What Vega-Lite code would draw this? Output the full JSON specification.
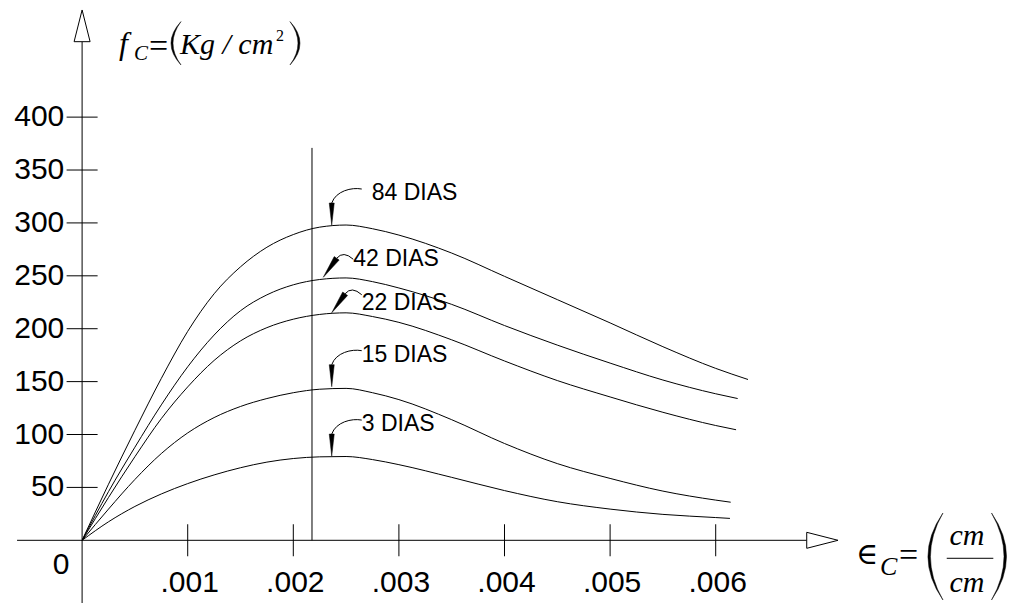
{
  "$schema": "https://vega.github.io/schema/vega-lite/v6.json",
  "width": 1016,
  "height": 603,
  "autosize": {"type": "none"},
  "padding": 0,
  "background": "white",
  "config": {"view": {"stroke": null}},
  "data": {"values": [{}]},
  "datasets": {
    "curves": [
      {"age": "84 DIAS", "x": 0, "y": 0},
      {"age": "84 DIAS", "x": 0.00025, "y": 53},
      {"age": "84 DIAS", "x": 0.0005, "y": 104},
      {"age": "84 DIAS", "x": 0.00075, "y": 153},
      {"age": "84 DIAS", "x": 0.001, "y": 197.5},
      {"age": "84 DIAS", "x": 0.00125, "y": 233},
      {"age": "84 DIAS", "x": 0.0015, "y": 258.5},
      {"age": "84 DIAS", "x": 0.00175, "y": 277},
      {"age": "84 DIAS", "x": 0.002, "y": 289},
      {"age": "84 DIAS", "x": 0.00225, "y": 296},
      {"age": "84 DIAS", "x": 0.0025, "y": 298},
      {"age": "84 DIAS", "x": 0.00275, "y": 294.5},
      {"age": "84 DIAS", "x": 0.003, "y": 288.5},
      {"age": "84 DIAS", "x": 0.0035, "y": 271.5},
      {"age": "84 DIAS", "x": 0.004, "y": 249.5},
      {"age": "84 DIAS", "x": 0.0045, "y": 227.5},
      {"age": "84 DIAS", "x": 0.005, "y": 205.5},
      {"age": "84 DIAS", "x": 0.0055, "y": 183},
      {"age": "84 DIAS", "x": 0.006, "y": 162.5},
      {"age": "84 DIAS", "x": 0.006306, "y": 152},
      {"age": "42 DIAS", "x": 0, "y": 0},
      {"age": "42 DIAS", "x": 0.00025, "y": 46},
      {"age": "42 DIAS", "x": 0.0005, "y": 88},
      {"age": "42 DIAS", "x": 0.00075, "y": 128},
      {"age": "42 DIAS", "x": 0.001, "y": 164},
      {"age": "42 DIAS", "x": 0.00125, "y": 194},
      {"age": "42 DIAS", "x": 0.0015, "y": 217},
      {"age": "42 DIAS", "x": 0.00175, "y": 232},
      {"age": "42 DIAS", "x": 0.002, "y": 241.5},
      {"age": "42 DIAS", "x": 0.00225, "y": 246.5},
      {"age": "42 DIAS", "x": 0.0025, "y": 248},
      {"age": "42 DIAS", "x": 0.00275, "y": 244.5},
      {"age": "42 DIAS", "x": 0.003, "y": 238.5},
      {"age": "42 DIAS", "x": 0.0035, "y": 223},
      {"age": "42 DIAS", "x": 0.004, "y": 203},
      {"age": "42 DIAS", "x": 0.0045, "y": 184.5},
      {"age": "42 DIAS", "x": 0.005, "y": 167.5},
      {"age": "42 DIAS", "x": 0.0055, "y": 151.5},
      {"age": "42 DIAS", "x": 0.006, "y": 138.5},
      {"age": "42 DIAS", "x": 0.006208, "y": 134},
      {"age": "22 DIAS", "x": 0, "y": 0},
      {"age": "22 DIAS", "x": 0.00025, "y": 40.5},
      {"age": "22 DIAS", "x": 0.0005, "y": 79},
      {"age": "22 DIAS", "x": 0.00075, "y": 115},
      {"age": "22 DIAS", "x": 0.001, "y": 145},
      {"age": "22 DIAS", "x": 0.00125, "y": 170},
      {"age": "22 DIAS", "x": 0.0015, "y": 188.5},
      {"age": "22 DIAS", "x": 0.00175, "y": 201},
      {"age": "22 DIAS", "x": 0.002, "y": 209},
      {"age": "22 DIAS", "x": 0.00225, "y": 213.5},
      {"age": "22 DIAS", "x": 0.0025, "y": 215},
      {"age": "22 DIAS", "x": 0.00275, "y": 211.5},
      {"age": "22 DIAS", "x": 0.003, "y": 206},
      {"age": "22 DIAS", "x": 0.0035, "y": 189.5},
      {"age": "22 DIAS", "x": 0.004, "y": 169.5},
      {"age": "22 DIAS", "x": 0.0045, "y": 151},
      {"age": "22 DIAS", "x": 0.005, "y": 135.5},
      {"age": "22 DIAS", "x": 0.0055, "y": 121},
      {"age": "22 DIAS", "x": 0.006, "y": 108.5},
      {"age": "22 DIAS", "x": 0.006193, "y": 104.5},
      {"age": "15 DIAS", "x": 0, "y": 0},
      {"age": "15 DIAS", "x": 0.00025, "y": 29.5},
      {"age": "15 DIAS", "x": 0.0005, "y": 57.5},
      {"age": "15 DIAS", "x": 0.00075, "y": 82},
      {"age": "15 DIAS", "x": 0.001, "y": 101.5},
      {"age": "15 DIAS", "x": 0.00125, "y": 116},
      {"age": "15 DIAS", "x": 0.0015, "y": 126.5},
      {"age": "15 DIAS", "x": 0.00175, "y": 134},
      {"age": "15 DIAS", "x": 0.002, "y": 139.5},
      {"age": "15 DIAS", "x": 0.00225, "y": 142.8},
      {"age": "15 DIAS", "x": 0.0025, "y": 143.6},
      {"age": "15 DIAS", "x": 0.00275, "y": 139.5},
      {"age": "15 DIAS", "x": 0.003, "y": 133},
      {"age": "15 DIAS", "x": 0.0035, "y": 114},
      {"age": "15 DIAS", "x": 0.004, "y": 91.5},
      {"age": "15 DIAS", "x": 0.0045, "y": 72.5},
      {"age": "15 DIAS", "x": 0.005, "y": 58.5},
      {"age": "15 DIAS", "x": 0.0055, "y": 46.5},
      {"age": "15 DIAS", "x": 0.006, "y": 38},
      {"age": "15 DIAS", "x": 0.006142, "y": 36},
      {"age": "3 DIAS", "x": 0, "y": 0},
      {"age": "3 DIAS", "x": 0.00025, "y": 17.5},
      {"age": "3 DIAS", "x": 0.0005, "y": 32},
      {"age": "3 DIAS", "x": 0.00075, "y": 43.8},
      {"age": "3 DIAS", "x": 0.001, "y": 53.6},
      {"age": "3 DIAS", "x": 0.00125, "y": 61.8},
      {"age": "3 DIAS", "x": 0.0015, "y": 68.6},
      {"age": "3 DIAS", "x": 0.00175, "y": 73.9},
      {"age": "3 DIAS", "x": 0.002, "y": 77.3},
      {"age": "3 DIAS", "x": 0.00225, "y": 78.9},
      {"age": "3 DIAS", "x": 0.0025, "y": 79.2},
      {"age": "3 DIAS", "x": 0.00275, "y": 76.3},
      {"age": "3 DIAS", "x": 0.003, "y": 71.5},
      {"age": "3 DIAS", "x": 0.0035, "y": 59.5},
      {"age": "3 DIAS", "x": 0.004, "y": 47},
      {"age": "3 DIAS", "x": 0.0045, "y": 36.5},
      {"age": "3 DIAS", "x": 0.005, "y": 29.5},
      {"age": "3 DIAS", "x": 0.0055, "y": 24.5},
      {"age": "3 DIAS", "x": 0.006, "y": 21.5},
      {"age": "3 DIAS", "x": 0.006135, "y": 20.7}
    ],
    "ann": [
      {"label": "84 DIAS", "x": 0.002364, "y": 298, "kind": "v"},
      {"label": "42 DIAS", "x": 0.002284, "y": 248.6, "kind": "d"},
      {"label": "22 DIAS", "x": 0.002364, "y": 215.1, "kind": "d"},
      {"label": "15 DIAS", "x": 0.002364, "y": 145.2, "kind": "v"},
      {"label": "3 DIAS", "x": 0.002364, "y": 79.6, "kind": "v"}
    ],
    "xt": [
      {"x": 0.001, "label": ".001"},
      {"x": 0.002, "label": ".002"},
      {"x": 0.003, "label": ".003"},
      {"x": 0.004, "label": ".004"},
      {"x": 0.005, "label": ".005"},
      {"x": 0.006, "label": ".006"}
    ],
    "yt": [
      {"y": 50, "label": "50"},
      {"y": 100, "label": "100"},
      {"y": 150, "label": "150"},
      {"y": 200, "label": "200"},
      {"y": 250, "label": "250"},
      {"y": 300, "label": "300"},
      {"y": 350, "label": "350"},
      {"y": 400, "label": "400"}
    ]
  },
  "layer": [
    {
      "data": {"name": "curves"},
      "mark": {"type": "line", "interpolate": "monotone", "stroke": "black", "strokeWidth": 1},
      "encoding": {
        "x": {"field": "x", "type": "quantitative", "scale": {"domain": [-0.0007775, 0.0088438], "nice": false, "zero": false}, "axis": null},
        "y": {"field": "y", "type": "quantitative", "scale": {"domain": [-59.26, 510.7], "nice": false, "zero": false}, "axis": null},
        "detail": {"field": "age"}
      }
    },
    {
      "mark": {"type": "rule", "stroke": "black", "strokeWidth": 1},
      "encoding": {
        "x": {"datum": -0.000616, "type": "quantitative", "axis": null},
        "x2": {"datum": 0.006862},
        "y": {"datum": 0, "type": "quantitative", "axis": null}
      }
    },
    {
      "mark": {"type": "rule", "stroke": "black", "strokeWidth": 1},
      "encoding": {
        "x": {"datum": 0, "type": "quantitative", "axis": null},
        "y": {"datum": -59.26, "type": "quantitative", "axis": null},
        "y2": {"datum": 471.3}
      }
    },
    {
      "mark": {"type": "rule", "stroke": "black", "strokeWidth": 1},
      "encoding": {
        "x": {"datum": 0.002177, "type": "quantitative", "axis": null},
        "y": {"datum": 0, "type": "quantitative", "axis": null},
        "y2": {"datum": 370.9}
      }
    },
    {
      "mark": {"type": "point", "shape": "M-8,0L8,0L0,-31.7Z", "size": 4, "filled": true, "fill": "white", "stroke": "black", "strokeWidth": 1, "opacity": 1},
      "encoding": {
        "x": {"datum": 0, "type": "quantitative", "axis": null},
        "y": {"datum": 471.3, "type": "quantitative", "axis": null}
      }
    },
    {
      "mark": {"type": "point", "shape": "M0,-8L0,8L31.3,0Z", "size": 4, "filled": true, "fill": "white", "stroke": "black", "strokeWidth": 1, "opacity": 1},
      "encoding": {
        "x": {"datum": 0.006862, "type": "quantitative", "axis": null},
        "y": {"datum": 0, "type": "quantitative", "axis": null}
      }
    },
    {
      "data": {"name": "xt"},
      "mark": {"type": "tick", "orient": "vertical", "size": 32, "thickness": 1, "color": "black", "opacity": 1},
      "encoding": {
        "x": {"field": "x", "type": "quantitative", "axis": null},
        "y": {"datum": 0, "type": "quantitative", "axis": null}
      }
    },
    {
      "data": {"name": "xt"},
      "mark": {"type": "text", "font": "Liberation Sans", "fontSize": 30, "align": "center", "baseline": "middle", "dx": 2, "color": "black"},
      "encoding": {
        "x": {"field": "x", "type": "quantitative", "axis": null},
        "y": {"datum": -40.6, "type": "quantitative", "axis": null},
        "text": {"field": "label"}
      }
    },
    {
      "data": {"name": "yt"},
      "mark": {"type": "tick", "orient": "horizontal", "size": 31, "thickness": 1, "color": "black", "opacity": 1},
      "encoding": {
        "x": {"datum": 0, "type": "quantitative", "axis": null},
        "y": {"field": "y", "type": "quantitative", "axis": null}
      }
    },
    {
      "data": {"name": "yt"},
      "mark": {"type": "text", "font": "Liberation Sans", "fontSize": 30, "align": "right", "baseline": "middle", "color": "black"},
      "encoding": {
        "x": {"datum": -0.0001686, "type": "quantitative", "axis": null},
        "y": {"field": "y", "type": "quantitative", "axis": null},
        "text": {"field": "label"}
      }
    },
    {
      "mark": {"type": "text", "text": "0", "font": "Liberation Sans", "fontSize": 30, "align": "right", "baseline": "middle", "color": "black"},
      "encoding": {
        "x": {"datum": -0.000121, "type": "quantitative", "axis": null},
        "y": {"datum": -22.9, "type": "quantitative", "axis": null}
      }
    },
    {
      "data": {"name": "ann"},
      "transform": [{"filter": "datum.kind == 'v'"}],
      "mark": {"type": "point", "shape": "M30,-36C20,-38 4,-34 0,-22", "size": 4, "filled": false, "stroke": "black", "strokeWidth": 1, "opacity": 1},
      "encoding": {
        "x": {"field": "x", "type": "quantitative", "axis": null},
        "y": {"field": "y", "type": "quantitative", "axis": null}
      }
    },
    {
      "data": {"name": "ann"},
      "transform": [{"filter": "datum.kind == 'v'"}],
      "mark": {"type": "point", "shape": "M-2.5,-22L2.5,-22L0,0Z", "size": 4, "filled": true, "fill": "black", "stroke": "black", "strokeWidth": 0.5, "opacity": 1},
      "encoding": {
        "x": {"field": "x", "type": "quantitative", "axis": null},
        "y": {"field": "y", "type": "quantitative", "axis": null}
      }
    },
    {
      "data": {"name": "ann"},
      "transform": [{"filter": "datum.kind == 'd'"}],
      "mark": {"type": "point", "shape": "M13.4,-19Q20,-27 30,-18", "size": 4, "filled": false, "stroke": "black", "strokeWidth": 1, "opacity": 1},
      "encoding": {
        "x": {"field": "x", "type": "quantitative", "axis": null},
        "y": {"field": "y", "type": "quantitative", "axis": null}
      }
    },
    {
      "data": {"name": "ann"},
      "transform": [{"filter": "datum.kind == 'd'"}],
      "mark": {"type": "point", "shape": "M0,0L15.85,-17.27L10.95,-20.73Z", "size": 4, "filled": true, "fill": "black", "stroke": "black", "strokeWidth": 0.5, "opacity": 1},
      "encoding": {
        "x": {"field": "x", "type": "quantitative", "axis": null},
        "y": {"field": "y", "type": "quantitative", "axis": null}
      }
    },
    {
      "data": {"name": "ann"},
      "transform": [{"filter": "datum.label == '84 DIAS'"}],
      "mark": {"type": "text", "font": "Liberation Sans", "fontSize": 23, "align": "left", "baseline": "middle", "dx": 40, "dy": -32, "color": "black"},
      "encoding": {
        "x": {"field": "x", "type": "quantitative", "axis": null},
        "y": {"field": "y", "type": "quantitative", "axis": null},
        "text": {"field": "label"}
      }
    },
    {
      "data": {"name": "ann"},
      "transform": [{"filter": "datum.label == '15 DIAS' || datum.label == '3 DIAS'"}],
      "mark": {"type": "text", "font": "Liberation Sans", "fontSize": 23, "align": "left", "baseline": "middle", "dx": 30, "dy": -32, "color": "black"},
      "encoding": {
        "x": {"field": "x", "type": "quantitative", "axis": null},
        "y": {"field": "y", "type": "quantitative", "axis": null},
        "text": {"field": "label"}
      }
    },
    {
      "data": {"name": "ann"},
      "transform": [{"filter": "datum.label == '42 DIAS'"}],
      "mark": {"type": "text", "font": "Liberation Sans", "fontSize": 23, "align": "left", "baseline": "middle", "dx": 30, "dy": -18, "color": "black"},
      "encoding": {
        "x": {"field": "x", "type": "quantitative", "axis": null},
        "y": {"field": "y", "type": "quantitative", "axis": null},
        "text": {"field": "label"}
      }
    },
    {
      "data": {"name": "ann"},
      "transform": [{"filter": "datum.label == '22 DIAS'"}],
      "mark": {"type": "text", "font": "Liberation Sans", "fontSize": 23, "align": "left", "baseline": "middle", "dx": 30, "dy": -9.4, "color": "black"},
      "encoding": {
        "x": {"field": "x", "type": "quantitative", "axis": null},
        "y": {"field": "y", "type": "quantitative", "axis": null},
        "text": {"field": "label"}
      }
    },
    {
      "mark": {"type": "text", "text": "f", "font": "Liberation Serif", "fontStyle": "italic", "fontSize": 32, "align": "left", "baseline": "alphabetic", "color": "black"},
      "encoding": {
        "x": {"datum": 0.000349, "type": "quantitative", "axis": null},
        "y": {"datum": 460.1, "type": "quantitative", "axis": null}
      }
    },
    {
      "mark": {"type": "text", "text": "C", "font": "Liberation Serif", "fontStyle": "italic", "fontSize": 21, "align": "left", "baseline": "alphabetic", "color": "black"},
      "encoding": {
        "x": {"datum": 0.000491, "type": "quantitative", "axis": null},
        "y": {"datum": 454.0, "type": "quantitative", "axis": null}
      }
    },
    {
      "mark": {"type": "text", "text": "=", "font": "Liberation Serif", "fontSize": 34, "align": "left", "baseline": "alphabetic", "color": "black"},
      "encoding": {
        "x": {"datum": 0.000634, "type": "quantitative", "axis": null},
        "y": {"datum": 456.8, "type": "quantitative", "axis": null}
      }
    },
    {
      "mark": {"type": "text", "text": "Kg / cm", "font": "Liberation Serif", "fontStyle": "italic", "fontSize": 30, "align": "left", "baseline": "alphabetic", "color": "black"},
      "encoding": {
        "x": {"datum": 0.000927, "type": "quantitative", "axis": null},
        "y": {"datum": 460.1, "type": "quantitative", "axis": null}
      }
    },
    {
      "mark": {"type": "text", "text": "2", "font": "Liberation Serif", "fontSize": 16, "align": "left", "baseline": "alphabetic", "color": "black"},
      "encoding": {
        "x": {"datum": 0.001836, "type": "quantitative", "axis": null},
        "y": {"datum": 472.4, "type": "quantitative", "axis": null}
      }
    },
    {
      "mark": {"type": "point", "shape": "M5,-21.7Q-15,0 5,21.7Q-11,0 5,-21.7Z", "size": 4, "filled": true, "fill": "black", "stroke": "black", "strokeWidth": 0.5, "opacity": 1},
      "encoding": {
        "x": {"datum": 0.000889, "type": "quantitative", "axis": null},
        "y": {"datum": 469.8, "type": "quantitative", "axis": null}
      }
    },
    {
      "mark": {"type": "point", "shape": "M-5,-21.7Q15,0 -5,21.7Q11,0 -5,-21.7Z", "size": 4, "filled": true, "fill": "black", "stroke": "black", "strokeWidth": 0.5, "opacity": 1},
      "encoding": {
        "x": {"datum": 0.002016, "type": "quantitative", "axis": null},
        "y": {"datum": 469.8, "type": "quantitative", "axis": null}
      }
    },
    {
      "mark": {"type": "text", "text": "∈", "font": "DejaVu Serif", "fontSize": 30, "align": "left", "baseline": "middle", "color": "black"},
      "encoding": {
        "x": {"datum": 0.007329, "type": "quantitative", "axis": null},
        "y": {"datum": -13.9, "type": "quantitative", "axis": null}
      }
    },
    {
      "mark": {"type": "text", "text": "C", "font": "Liberation Serif", "fontStyle": "italic", "fontSize": 26, "align": "left", "baseline": "alphabetic", "color": "black"},
      "encoding": {
        "x": {"datum": 0.007556, "type": "quantitative", "axis": null},
        "y": {"datum": -32.8, "type": "quantitative", "axis": null}
      }
    },
    {
      "mark": {"type": "text", "text": "=", "font": "Liberation Serif", "fontSize": 34, "align": "left", "baseline": "alphabetic", "color": "black"},
      "encoding": {
        "x": {"datum": 0.007736, "type": "quantitative", "axis": null},
        "y": {"datum": -24.3, "type": "quantitative", "axis": null}
      }
    },
    {
      "mark": {"type": "point", "shape": "M7.5,-43.5Q-22.5,0 7.5,43.5Q-17.5,0 7.5,-43.5Z", "size": 4, "filled": true, "fill": "black", "stroke": "black", "strokeWidth": 0.5, "opacity": 1},
      "encoding": {
        "x": {"datum": 0.008081, "type": "quantitative", "axis": null},
        "y": {"datum": -15.3, "type": "quantitative", "axis": null}
      }
    },
    {
      "mark": {"type": "point", "shape": "M-7.5,-43.5Q22.5,0 -7.5,43.5Q17.5,0 -7.5,-43.5Z", "size": 4, "filled": true, "fill": "black", "stroke": "black", "strokeWidth": 0.5, "opacity": 1},
      "encoding": {
        "x": {"datum": 0.008683, "type": "quantitative", "axis": null},
        "y": {"datum": -15.3, "type": "quantitative", "axis": null}
      }
    },
    {
      "mark": {"type": "text", "text": "cm", "font": "Liberation Serif", "fontStyle": "italic", "fontSize": 30, "align": "center", "baseline": "alphabetic", "color": "black"},
      "encoding": {
        "x": {"datum": 0.00838, "type": "quantitative", "axis": null},
        "y": {"datum": -4.4, "type": "quantitative", "axis": null}
      }
    },
    {
      "mark": {"type": "rule", "stroke": "black", "strokeWidth": 1},
      "encoding": {
        "x": {"datum": 0.008188, "type": "quantitative", "axis": null},
        "x2": {"datum": 0.008629},
        "y": {"datum": -17.0, "type": "quantitative", "axis": null}
      }
    },
    {
      "mark": {"type": "text", "text": "cm", "font": "Liberation Serif", "fontStyle": "italic", "fontSize": 30, "align": "center", "baseline": "alphabetic", "color": "black"},
      "encoding": {
        "x": {"datum": 0.00838, "type": "quantitative", "axis": null},
        "y": {"datum": -48.9, "type": "quantitative", "axis": null}
      }
    }
  ]
}
